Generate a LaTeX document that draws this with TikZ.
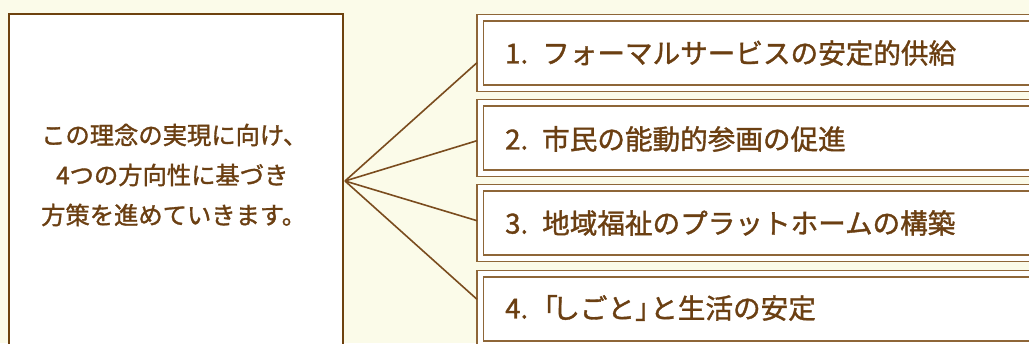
\documentclass[tikz,border=0pt]{standalone}
\usepackage{fontspec}
\newfontfamily\jp[FakeBold=1.3]{Noto Sans CJK JP}
\definecolor{bg}{HTML}{FBFBE9}
\definecolor{darkbrown}{HTML}{6E420F}
\definecolor{midbrown}{HTML}{8E6638}
\definecolor{txt}{HTML}{6B3F12}
\definecolor{linebrown}{HTML}{7A4C1E}
\tikzset{
  leftbox/.style={draw=darkbrown, line width=2pt, fill=white, rectangle, inner sep=0pt},
  itembox/.style={draw=midbrown, double=white, double distance=5pt, line width=1.3pt, fill=white, rectangle, inner sep=0pt, minimum width=580pt, minimum height=70.5pt, anchor=west},
  itemtext/.style={font=\jp\fontsize{27.6}{30}\selectfont, text=txt, anchor=west, inner sep=0pt},
  conn/.style={draw=linebrown, line width=1.6pt},
}
\begin{document}
\begin{tikzpicture}[x=1pt,y=-1pt]
\fill[bg] (0,0) rectangle (1029,343);
\useasboundingbox (0,0) rectangle (1029,343);
\clip (0,0) rectangle (1029,343);
\node[leftbox, minimum width=334pt, minimum height=350pt] (left) at (176,189) {};
\node[font=\jp\fontsize{24.3}{40}\selectfont, text=txt, align=left, anchor=west, inner sep=0pt] (concept) at (41,175)
  {この理念の実現に向け、\\\hspace*{15pt}4つの方向性に基づき\\方策を進めていきます。};
\node[itembox] (b1) at (479.5,53) {};
\node[itembox] (b2) at (479.5,138) {};
\node[itembox] (b3) at (479.5,223) {};
\node[itembox] (b4) at (479.5,309) {};
\node[itemtext] (t1) at (505,53) {1.\hspace{14pt}フォーマルサービスの安定的供給};
\node[itemtext] (t2) at (505,139) {2.\hspace{14pt}市民の能動的参画の促進};
\node[itemtext] (t3) at (505,223) {3.\hspace{14pt}地域福祉のプラットホームの構築};
\node[itemtext] (t4) at (505,308) {4.\hspace{2pt}「\kern-0.2emしごと」\kern-0.45emと生活の安定};
\coordinate (hub) at (345,181);
\coordinate (e1) at (477,62.7);
\coordinate (e2) at (477,140.7);
\coordinate (e3) at (477,220.7);
\coordinate (e4) at (477,299.3);
\draw[conn] (hub) -- (e1);
\draw[conn] (hub) -- (e2);
\draw[conn] (hub) -- (e3);
\draw[conn] (hub) -- (e4);
\end{tikzpicture}
\end{document}
